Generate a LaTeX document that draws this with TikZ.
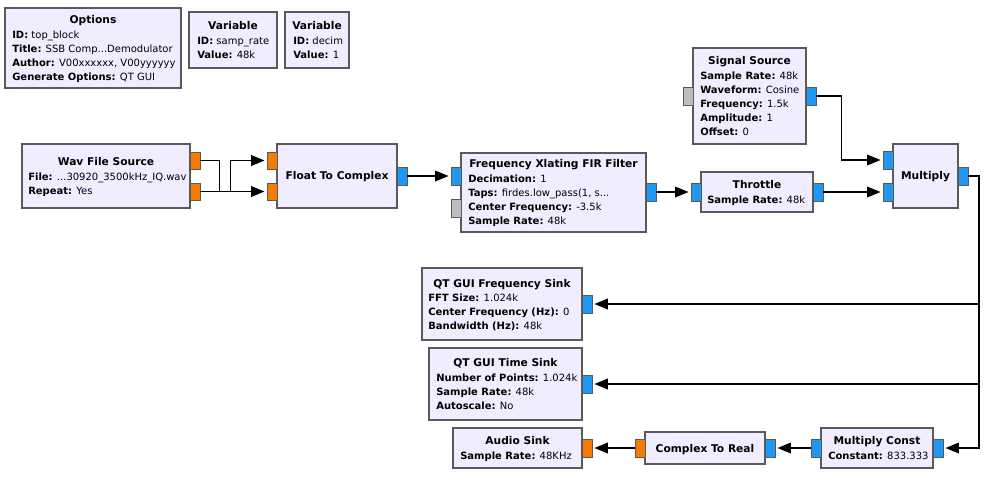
\documentclass[tikz,border=0pt]{standalone}
\usepackage{fontspec}
\setmainfont{DejaVu Sans}
\usetikzlibrary{arrows.meta,fit}
\definecolor{blkfill}{HTML}{F1ECFF}
\definecolor{blkline}{HTML}{5A5A5A}
\definecolor{cplx}{HTML}{2196F3}
\definecolor{flt}{HTML}{F57C00}
\definecolor{msg}{HTML}{BDBDBD}
\newcommand\grckv[2]{\textbf{#1:} #2}
\begin{document}
\begin{tikzpicture}[x=0.75pt,y=-0.75pt,
  blk/.style={draw=blkline, fill=blkfill, line width=0.9pt, inner sep=0pt},
  cport/.style={draw=blkline, fill=cplx, line width=0.7pt, inner sep=0pt},
  fport/.style={draw=blkline, fill=flt, line width=0.7pt, inner sep=0pt},
  mport/.style={draw=blkline, fill=msg, line width=0.7pt, inner sep=0pt},
  ttl/.style={anchor=base, inner sep=0pt, font=\fontsize{8pt}{10pt}\selectfont\bfseries},
  prm/.style={anchor=base west, inner sep=0pt, font=\fontsize{7.5pt}{9pt}\selectfont},
  conn/.style={draw=black, line width=0.9pt},
  arr/.style={conn, -{Triangle[length=10pt,width=8pt]}, shorten >=1.5pt}]
\fill[white] (0,0) rectangle (987,476);
\useasboundingbox (0,0) rectangle (987,476);

% ---------- Options ----------
\node[blk, fit={(5,8)(181,88)}] (opt) {};
\node[ttl] (optT) at (93,23) {Options};
\node[prm] (optP1) at (12,38) {\grckv{ID}{top\_block}};
\node[prm] (optP2) at (12,52) {\grckv{Title}{SSB Comp...Demodulator}};
\node[prm] (optP3) at (12,66) {\grckv{Author}{V00xxxxxx, V00yyyyyy}};
\node[prm] (optP4) at (12,80) {\grckv{Generate Options}{QT GUI}};

% ---------- Variables ----------
\node[blk, fit={(189,12)(277,68)}] (var1) {};
\node[ttl] (var1T) at (233,29) {Variable};
\node[prm] (var1P1) at (197,44) {\grckv{ID}{samp\_rate}};
\node[prm] (var1P2) at (197,58) {\grckv{Value}{48k}};

\node[blk, fit={(285,12)(349,68)}] (var2) {};
\node[ttl] (var2T) at (317,29) {Variable};
\node[prm] (var2P1) at (293,44) {\grckv{ID}{decim}};
\node[prm] (var2P2) at (293,58) {\grckv{Value}{1}};

% ---------- Wav File Source ----------
\node[blk, fit={(22,144)(190,208)}] (wav) {};
\node[ttl] (wavT) at (106,165) {Wav File Source};
\node[prm] (wavP1) at (28,180) {\grckv{File}{...30920\_3500kHz\_IQ.wav}};
\node[prm] (wavP2) at (28,194) {\grckv{Repeat}{Yes}};
\node[fport, fit={(190,152)(200,169)}] (wavO0) {};
\node[fport, fit={(190,183)(200,200)}] (wavO1) {};

% ---------- Float To Complex ----------
\node[blk, fit={(277,144)(397,208)}] (ftc) {};
\node[ttl] (ftcT) at (337,179) {Float To Complex};
\node[fport, fit={(267,152)(277,169)}] (ftcI0) {};
\node[fport, fit={(267,183)(277,200)}] (ftcI1) {};
\node[cport, fit={(397,167)(407,185)}] (ftcO) {};

% ---------- Frequency Xlating FIR Filter ----------
\node[blk, fit={(461,153)(646,232)}] (xl) {};
\node[ttl] (xlT) at (553.5,167) {Frequency Xlating FIR Filter};
\node[prm] (xlP1) at (468,182) {\grckv{Decimation}{1}};
\node[prm] (xlP2) at (468,196) {\grckv{Taps}{firdes.low\_pass(1, s...}};
\node[prm] (xlP3) at (468,210) {\grckv{Center Frequency}{-3.5k}};
\node[prm] (xlP4) at (468,224) {\grckv{Sample Rate}{48k}};
\node[cport, fit={(451,167)(461,185)}] (xlI) {};
\node[mport, fit={(451,199)(461,217)}] (xlM) {};
\node[cport, fit={(646,183)(656,201)}] (xlO) {};

% ---------- Signal Source ----------
\node[blk, fit={(693,48)(806,144)}] (sig) {};
\node[ttl] (sigT) at (749.5,64) {Signal Source};
\node[prm] (sigP1) at (700,79) {\grckv{Sample Rate}{48k}};
\node[prm] (sigP2) at (700,93) {\grckv{Waveform}{Cosine}};
\node[prm] (sigP3) at (700,107) {\grckv{Frequency}{1.5k}};
\node[prm] (sigP4) at (700,121) {\grckv{Amplitude}{1}};
\node[prm] (sigP5) at (700,135) {\grckv{Offset}{0}};
\node[mport, fit={(683,87)(693,105)}] (sigM) {};
\node[cport, fit={(806,87)(816,105)}] (sigO) {};

% ---------- Throttle ----------
\node[blk, fit={(701,172)(813,212)}] (thr) {};
\node[ttl] (thrT) at (757,188) {Throttle};
\node[prm] (thrP1) at (707,203) {\grckv{Sample Rate}{48k}};
\node[cport, fit={(691,183)(701,201)}] (thrI) {};
\node[cport, fit={(813,183)(823,201)}] (thrO) {};

% ---------- Multiply ----------
\node[blk, fit={(893,144)(958,208)}] (mul) {};
\node[ttl] (mulT) at (925.5,179) {Multiply};
\node[cport, fit={(883,151)(893,169)}] (mulI0) {};
\node[cport, fit={(883,183)(893,201)}] (mulI1) {};
\node[cport, fit={(958,167)(968,185)}] (mulO) {};

% ---------- QT GUI Frequency Sink ----------
\node[blk, fit={(422,268)(582,340)}] (fs) {};
\node[ttl] (fsT) at (502,287) {QT GUI Frequency Sink};
\node[prm] (fsP1) at (428,301) {\grckv{FFT Size}{1.024k}};
\node[prm] (fsP2) at (428,315) {\grckv{Center Frequency (Hz)}{0}};
\node[prm] (fsP3) at (428,329) {\grckv{Bandwidth (Hz)}{48k}};
\node[cport, fit={(582,295)(592,313)}] (fsI) {};

% ---------- QT GUI Time Sink ----------
\node[blk, fit={(429,348)(582,420)}] (ts) {};
\node[ttl] (tsT) at (505.5,366) {QT GUI Time Sink};
\node[prm] (tsP1) at (436,381) {\grckv{Number of Points}{1.024k}};
\node[prm] (tsP2) at (436,395) {\grckv{Sample Rate}{48k}};
\node[prm] (tsP3) at (436,409) {\grckv{Autoscale}{No}};
\node[cport, fit={(582,375)(592,393)}] (tsI) {};

% ---------- Audio Sink ----------
\node[blk, fit={(453,428)(582,468)}] (aud) {};
\node[ttl] (audT) at (517.5,444) {Audio Sink};
\node[prm] (audP1) at (460,459) {\grckv{Sample Rate}{48KHz}};
\node[fport, fit={(582,439)(592,457)}] (audI) {};

% ---------- Complex To Real ----------
\node[blk, fit={(645,432)(765,464)}] (c2r) {};
\node[ttl] (c2rT) at (705,452) {Complex To Real};
\node[fport, fit={(635,439)(645,457)}] (c2rO) {};
\node[cport, fit={(765,439)(775,457)}] (c2rI) {};

% ---------- Multiply Const ----------
\node[blk, fit={(821,428)(933,468)}] (mc) {};
\node[ttl] (mcT) at (877,444) {Multiply Const};
\node[prm] (mcP1) at (828,459) {\grckv{Constant}{833.333}};
\node[cport, fit={(811,439)(821,457)}] (mcO) {};
\node[cport, fit={(933,439)(943,457)}] (mcI) {};

% ---------- Connectors ----------
\coordinate (bus) at (979,176);
\draw[arr] (wavO0.east) -- ++(19,0) |- (ftcI1.west);
\draw[arr] (wavO1.east) -- ++(30,0) |- (ftcI0.west);
\draw[arr] (ftcO.east) -- (xlI.west);
\draw[arr] (xlO.east) -- (thrI.west);
\draw[arr] (sigO.east) -- ++(25,0) |- (mulI0.west);
\draw[arr] (thrO.east) -- (mulI1.west);
\draw[arr] (mulO.east) -- (bus) |- (fsI.east);
\draw[arr] (mulO.east) -- (bus) |- (tsI.east);
\draw[arr] (mulO.east) -- (bus) |- (mcI.east);
\draw[arr] (mcO.west) -- (c2rI.east);
\draw[arr] (c2rO.west) -- (audI.east);
\end{tikzpicture}
\end{document}
